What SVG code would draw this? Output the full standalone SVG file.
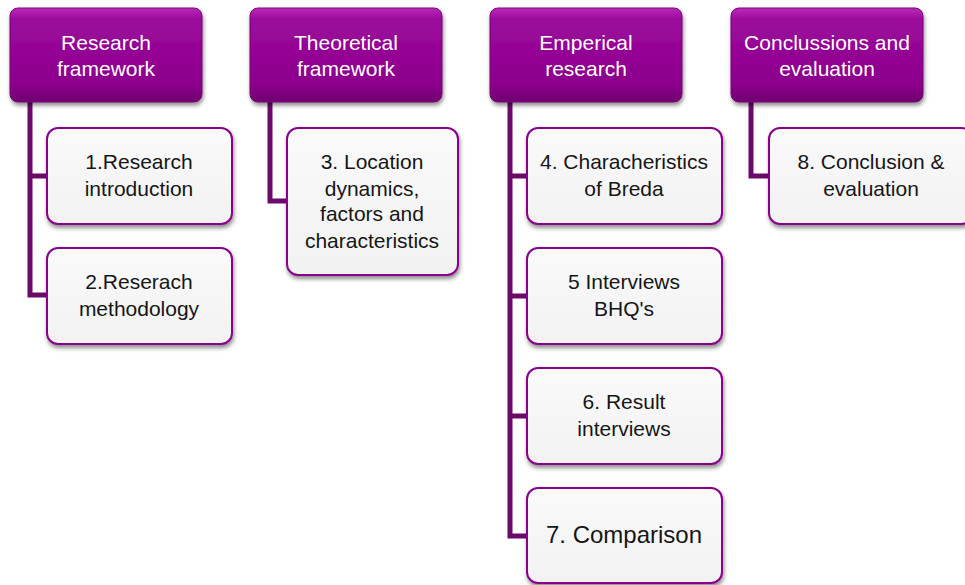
<svg xmlns="http://www.w3.org/2000/svg" width="965" height="585" viewBox="0 0 965 585">
<defs>
<linearGradient id="hg" x1="0" y1="0" x2="0" y2="1">
<stop offset="0" stop-color="#b92bb9"/>
<stop offset="0.12" stop-color="#9c0a9c"/>
<stop offset="0.8" stop-color="#8c008c"/>
<stop offset="1" stop-color="#6e006e"/>
</linearGradient>
<linearGradient id="cg" x1="0" y1="0" x2="0" y2="1">
<stop offset="0" stop-color="#fafafa"/>
<stop offset="1" stop-color="#f2f2f2"/>
</linearGradient>
<filter id="sh" x="-10%" y="-10%" width="125%" height="130%">
<feGaussianBlur in="SourceAlpha" stdDeviation="2"/>
<feOffset dx="1" dy="3" result="b"/>
<feComponentTransfer><feFuncA type="linear" slope="0.45"/></feComponentTransfer>
<feMerge><feMergeNode/><feMergeNode in="SourceGraphic"/></feMerge>
</filter>
</defs>
<style>
.h{fill:url(#hg);stroke:#7a007a;stroke-width:1;filter:url(#sh)}
.c{fill:url(#cg);stroke:#8b008b;stroke-width:2;filter:url(#sh)}
.ht{font-family:"Liberation Sans",Arial,sans-serif;font-size:21px;fill:#ffffff;text-anchor:middle}
.ct{font-family:"Liberation Sans",Arial,sans-serif;font-size:21px;fill:#161616;text-anchor:middle}
.ln{fill:none;stroke:#6a0a6a;stroke-width:5}
</style>
<g id="connectors">
<path class="ln" d="M30,102 V295 H47 M30,176 H47"/>
<path class="ln" d="M270,102 V201 H287"/>
<path class="ln" d="M510,102 V536 H527 M510,176 H527 M510,296 H527 M510,416 H527"/>
<path class="ln" d="M751,102 V176 H769"/>
</g>
<g id="h1"><rect class="h" x="10" y="8" width="192" height="94" rx="8"/><text class="ht" x="106" y="50">Research</text><text class="ht" x="106" y="76">framework</text></g>
<g id="h2"><rect class="h" x="250" y="8" width="192" height="94" rx="8"/><text class="ht" x="346" y="50">Theoretical</text><text class="ht" x="346" y="76">framework</text></g>
<g id="h3"><rect class="h" x="490" y="8" width="192" height="94" rx="8"/><text class="ht" x="586" y="50">Emperical</text><text class="ht" x="586" y="76">research</text></g>
<g id="h4"><rect class="h" x="731" y="8" width="192" height="94" rx="8"/><text class="ht" x="827" y="50">Conclussions and</text><text class="ht" x="827" y="76">evaluation</text></g>
<g id="n1"><rect class="c" x="47" y="128" width="185" height="96" rx="11"/><text class="ct" x="139" y="169">1.Research</text><text class="ct" x="139" y="196">introduction</text></g>
<g id="n2"><rect class="c" x="47" y="248" width="185" height="96" rx="11"/><text class="ct" x="139" y="289">2.Reserach</text><text class="ct" x="139" y="316">methodology</text></g>
<g id="n3"><rect class="c" x="287" y="128" width="171" height="147" rx="11"/><text class="ct" x="372" y="169">3. Location</text><text class="ct" x="372" y="196">dynamics,</text><text class="ct" x="372" y="221">factors and</text><text class="ct" x="372" y="248">characteristics</text></g>
<g id="n4"><rect class="c" x="527" y="128" width="195" height="96" rx="11"/><text class="ct" x="624" y="169">4. Characheristics</text><text class="ct" x="624" y="196">of Breda</text></g>
<g id="n5"><rect class="c" x="527" y="248" width="195" height="96" rx="11"/><text class="ct" x="624" y="289">5 Interviews</text><text class="ct" x="624" y="316">BHQ's</text></g>
<g id="n6"><rect class="c" x="527" y="368" width="195" height="96" rx="11"/><text class="ct" x="624" y="409">6. Result</text><text class="ct" x="624" y="436">interviews</text></g>
<g id="n7"><rect class="c" x="527" y="488" width="195" height="95" rx="11"/><text class="ct" x="624" y="543" style="font-size:24px">7. Comparison</text></g>
<g id="n8"><rect class="c" x="769" y="128" width="204" height="96" rx="11"/><text class="ct" x="871" y="169">8. Conclusion &amp;</text><text class="ct" x="871" y="196">evaluation</text></g>
</svg>
